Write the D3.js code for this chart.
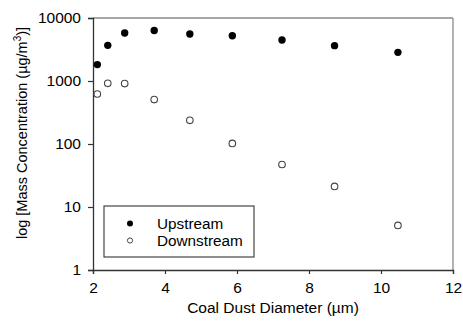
<!DOCTYPE html>
<html>
<head>
<meta charset="utf-8">
<script src="https://cdn.jsdelivr.net/npm/d3@7"></script>
<style>
  html, body { margin: 0; padding: 0; background: #fff; }
  svg text { font-family: Arial, "Liberation Sans", sans-serif; fill: #000; }
</style>
</head>
<body>
<svg id="chart" width="463" height="331"></svg>
<script>
// Particle diameter (µm) and mass concentration (µg/m³)
const diameters = [2.12, 2.41, 2.88, 3.70, 4.69, 5.87, 7.25, 8.71, 10.47];
const upstream = [1820, 3680, 5770, 6330, 5560, 5240, 4470, 3640, 2850];
const downstream = [622, 919, 910, 507, 238, 102, 47.3, 21.2, 5.1];
const xTicks = [2, 4, 6, 8, 10, 12];
const yTicks = [1, 10, 100, 1000, 10000];
const seriesNames = ["Upstream", "Downstream"];

const svg = d3.select("#chart");
const margin = { left: 93, right: 10, top: 18, bottom: 61 };
const W = 463, H = 331;

const x = d3.scaleLinear().domain([2, 12]).range([margin.left, W - margin.right]);
const y = d3.scaleLog().domain([1, 10000]).range([H - margin.bottom, margin.top]);

// top and right frame
svg.append("line")
  .attr("x1", x(2)).attr("x2", x(12)).attr("y1", y(10000)).attr("y2", y(10000))
  .attr("stroke", "#8a8a8a").attr("stroke-width", 1.3);
svg.append("line")
  .attr("x1", x(12)).attr("x2", x(12)).attr("y1", y(10000)).attr("y2", y(1))
  .attr("stroke", "#8a8a8a").attr("stroke-width", 1.3);

// axes
const xAxis = svg.append("g")
  .attr("transform", `translate(0,${y(1)})`)
  .call(d3.axisBottom(x).tickValues(xTicks).tickSize(4).tickPadding(8).tickFormat(d3.format("d")));
const yAxis = svg.append("g")
  .attr("transform", `translate(${x(2)},0)`)
  .call(d3.axisLeft(y).tickValues(yTicks).tickSize(5).tickPadding(7).tickFormat(d3.format("d")));

[xAxis, yAxis].forEach(g => {
  g.select(".domain").attr("stroke", "#333").attr("stroke-width", 1.3);
  g.selectAll(".tick line").attr("stroke", "#333").attr("stroke-width", 1.2);
  g.selectAll(".tick text").attr("font-size", 15.5).attr("fill", "#000")
    .attr("font-family", "Arial, 'Liberation Sans', sans-serif");
});

// axis titles
svg.append("text")
  .attr("x", (x(2) + x(12)) / 2).attr("y", 313)
  .attr("text-anchor", "middle").attr("font-size", 15.5)
  .text("Coal Dust Diameter (µm)");

const yl = svg.append("text")
  .attr("transform", `translate(27,133) rotate(-90)`)
  .attr("text-anchor", "middle").attr("font-size", 14.5);
yl.append("tspan").text("log [Mass Concentration (µg/m");
yl.append("tspan").attr("font-size", 10).attr("dy", -6).text("3");
yl.append("tspan").attr("dy", 6).text(")]");

// data points
svg.append("g").selectAll("circle")
  .data(diameters.map((d, i) => [d, downstream[i]]))
  .join("circle")
  .attr("cx", d => x(d[0])).attr("cy", d => y(d[1])).attr("r", 3.3)
  .attr("fill", "#fff").attr("stroke", "#444").attr("stroke-width", 1.1);

svg.append("g").selectAll("circle")
  .data(diameters.map((d, i) => [d, upstream[i]]))
  .join("circle")
  .attr("cx", d => x(d[0])).attr("cy", d => y(d[1])).attr("r", 3.7)
  .attr("fill", "#000");

// legend
const lg = svg.append("g");
lg.append("rect")
  .attr("x", 104).attr("y", 206).attr("width", 150).attr("height", 51)
  .attr("fill", "#fff").attr("stroke", "#333").attr("stroke-width", 1.1);
lg.append("circle").attr("cx", 130).attr("cy", 223.5).attr("r", 3).attr("fill", "#000");
lg.append("circle").attr("cx", 130).attr("cy", 240.5).attr("r", 2.6)
  .attr("fill", "#fff").attr("stroke", "#444").attr("stroke-width", 1);
seriesNames.forEach((name, i) => {
  lg.append("text")
    .attr("x", 157).attr("y", 228.5 + i * 17)
    .attr("font-size", 15.3).text(name);
});
</script>
</body>
</html>
